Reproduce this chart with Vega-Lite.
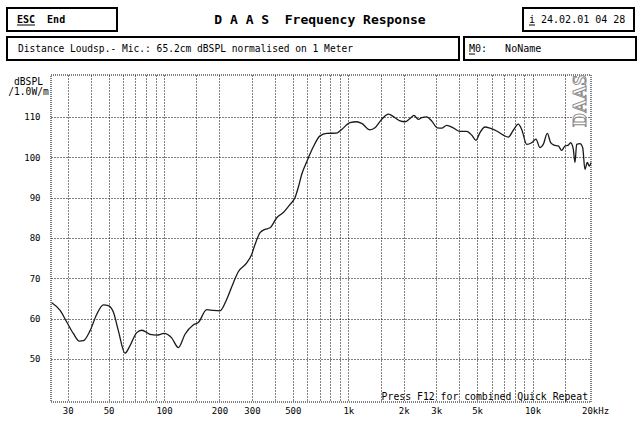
{
  "$schema": "https://vega.github.io/schema/vega-lite/v6.json",
  "background": "white",
  "padding": {"left": 6, "top": 7, "right": 4, "bottom": 4},
  "config": {
    "font": "DejaVu Sans Mono",
    "view": {"stroke": "black", "strokeWidth": 2},
    "text": {"color": "black"}
  },
  "spacing": 12,
  "vconcat": [
    {
      "spacing": 4,
      "vconcat": [
        {
          "spacing": 3,
          "hconcat": [
            {
              "width": 110, "height": 23,
              "data": {"values": [{"t": "ESC\u00a0\u00a0End"}]},
              "layer": [
                {"mark": {"type": "text", "align": "left", "fontWeight": "bold", "fontSize": 10},
                 "encoding": {"text": {"field": "t"}, "x": {"datum": 10, "type": "quantitative", "scale": {"domain": [0, 110], "nice": false}, "axis": null}}},
                {"mark": {"type": "rule", "color": "black", "strokeWidth": 1},
                 "encoding": {"x": {"datum": 10, "type": "quantitative", "axis": null}, "x2": {"datum": 28}, "y": {"datum": 6, "type": "quantitative", "scale": {"domain": [0, 23], "nice": false}, "axis": null}}}
              ]
            },
            {
              "width": 398, "height": 23,
              "data": {"values": [{"t": "D A A S\u00a0\u00a0Frequency Response"}]},
              "mark": {"type": "text", "fontWeight": "bold", "fontSize": 13},
              "encoding": {"text": {"field": "t"}}
            },
            {
              "width": 111, "height": 23,
              "data": {"values": [{"t": "i 24.02.01 04 28"}]},
              "layer": [
                {"mark": {"type": "text", "align": "left", "fontSize": 10},
                 "encoding": {"text": {"field": "t"}, "x": {"datum": 6, "type": "quantitative", "scale": {"domain": [0, 111], "nice": false}, "axis": null}}},
                {"mark": {"type": "rule", "color": "black", "strokeWidth": 1},
                 "encoding": {"x": {"datum": 6, "type": "quantitative", "axis": null}, "x2": {"datum": 12}, "y": {"datum": 6, "type": "quantitative", "scale": {"domain": [0, 23], "nice": false}, "axis": null}}}
              ]
            }
          ]
        },
        {
          "spacing": 3,
          "hconcat": [
            {
              "width": 452, "height": 23,
              "data": {"values": [{"t": "Distance Loudsp.- Mic.: 65.2cm dBSPL normalised on 1 Meter"}]},
              "mark": {"type": "text", "align": "left", "fontSize": 9.6},
              "encoding": {"text": {"field": "t"}, "x": {"datum": 11, "type": "quantitative", "scale": {"domain": [0, 452], "nice": false}, "axis": null}}
            },
            {
              "width": 172, "height": 23,
              "data": {"values": [{"t": "M0:\u00a0\u00a0\u00a0NoName"}]},
              "layer": [
                {"mark": {"type": "text", "align": "left", "fontSize": 10},
                 "encoding": {"text": {"field": "t"}, "x": {"datum": 5, "type": "quantitative", "scale": {"domain": [0, 172], "nice": false}, "axis": null}}},
                {"mark": {"type": "rule", "color": "black", "strokeWidth": 1},
                 "encoding": {"x": {"datum": 5, "type": "quantitative", "axis": null}, "x2": {"datum": 11}, "y": {"datum": 6, "type": "quantitative", "scale": {"domain": [0, 23], "nice": false}, "axis": null}}}
              ]
            }
          ]
        }
      ]
    },
    {
      "spacing": -2,
      "hconcat": [
        {
          "width": 1, "height": 1,
          "view": {"stroke": null},
          "data": {"values": []},
          "mark": "point"
        },
        {
          "width": 540, "height": 327,
          "view": {"stroke": "#808080", "strokeWidth": 2, "strokeDash": [1, 1]},
          "data": {"values": [
            {"f": 24.6, "db": 63.9}, {"f": 27.3, "db": 62.0}, {"f": 29.6, "db": 59.2}, {"f": 32.2, "db": 56.3},
            {"f": 34.7, "db": 54.4}, {"f": 36.5, "db": 54.5}, {"f": 39.7, "db": 57.0}, {"f": 43.1, "db": 61.0},
            {"f": 46.9, "db": 63.4}, {"f": 49.9, "db": 63.2}, {"f": 53.1, "db": 61.6}, {"f": 56.5, "db": 57.0},
            {"f": 61.4, "db": 51.4}, {"f": 65.4, "db": 53.3}, {"f": 71.1, "db": 56.5}, {"f": 75.7, "db": 57.1},
            {"f": 84.0, "db": 56.1}, {"f": 91.3, "db": 55.9}, {"f": 100, "db": 56.3}, {"f": 110, "db": 55.2},
            {"f": 119.6, "db": 52.8}, {"f": 130, "db": 56.1}, {"f": 144, "db": 58.4}, {"f": 153.5, "db": 59.0},
            {"f": 170.5, "db": 62.2}, {"f": 185, "db": 62.0}, {"f": 201, "db": 61.9}, {"f": 219, "db": 64.8},
            {"f": 238, "db": 68.9}, {"f": 253, "db": 71.6}, {"f": 281, "db": 73.8}, {"f": 299, "db": 75.9},
            {"f": 312, "db": 78.4}, {"f": 332, "db": 81.3}, {"f": 353, "db": 82.1}, {"f": 376, "db": 82.5},
            {"f": 409, "db": 85.0}, {"f": 444, "db": 86.3}, {"f": 483, "db": 88.3}, {"f": 514, "db": 90.0},
            {"f": 535, "db": 92.5}, {"f": 559, "db": 95.8}, {"f": 595, "db": 98.9}, {"f": 646, "db": 102.6},
            {"f": 702, "db": 105.3}, {"f": 763, "db": 105.9}, {"f": 865, "db": 106.0}, {"f": 921, "db": 106.9},
            {"f": 1021, "db": 108.6}, {"f": 1110, "db": 108.8}, {"f": 1182, "db": 108.4}, {"f": 1311, "db": 106.8},
            {"f": 1396, "db": 107.3}, {"f": 1518, "db": 109.4}, {"f": 1648, "db": 110.7}, {"f": 1792, "db": 109.8},
            {"f": 1908, "db": 109.0}, {"f": 2030, "db": 108.8}, {"f": 2161, "db": 109.6}, {"f": 2272, "db": 110.4},
            {"f": 2398, "db": 109.4}, {"f": 2502, "db": 109.8}, {"f": 2664, "db": 110.0}, {"f": 2835, "db": 109.0},
            {"f": 3040, "db": 107.3}, {"f": 3212, "db": 107.2}, {"f": 3419, "db": 107.9}, {"f": 3713, "db": 107.3},
            {"f": 4037, "db": 106.4}, {"f": 4389, "db": 106.4}, {"f": 4672, "db": 105.5}, {"f": 4930, "db": 104.2},
            {"f": 5183, "db": 106.1}, {"f": 5517, "db": 107.5}, {"f": 5873, "db": 107.2}, {"f": 6387, "db": 106.5},
            {"f": 6934, "db": 105.5}, {"f": 7383, "db": 105.0}, {"f": 7860, "db": 106.7}, {"f": 8366, "db": 108.2},
            {"f": 8728, "db": 106.9}, {"f": 9290, "db": 103.2}, {"f": 9888, "db": 103.6}, {"f": 10430, "db": 104.5},
            {"f": 10970, "db": 102.4}, {"f": 11430, "db": 103.2}, {"f": 12020, "db": 105.9}, {"f": 12540, "db": 103.6},
            {"f": 13070, "db": 103.0}, {"f": 13790, "db": 102.8}, {"f": 14390, "db": 101.7}, {"f": 14990, "db": 102.8},
            {"f": 15620, "db": 103.0}, {"f": 16090, "db": 103.6}, {"f": 16630, "db": 102.0}, {"f": 16980, "db": 98.7},
            {"f": 17350, "db": 103.2}, {"f": 18080, "db": 103.4}, {"f": 18700, "db": 102.4}, {"f": 19240, "db": 97.0},
            {"f": 19820, "db": 98.7}, {"f": 20310, "db": 97.8}, {"f": 20750, "db": 98.7}
          ]},
          "layer": [
            {
              "mark": {"type": "line", "color": "#1a1a1a", "strokeWidth": 1.3, "interpolate": "monotone"},
              "encoding": {
                "x": {
                  "field": "f", "type": "quantitative",
                  "scale": {"type": "log", "domain": [24.36, 20750], "nice": false},
                  "axis": {
                    "title": null,
                    "values": [30, 40, 50, 60, 70, 80, 90, 100, 150, 200, 300, 400, 500, 600, 700, 800, 900, 1000, 1500, 2000, 3000, 4000, 5000, 6000, 7000, 8000, 9000, 10000, 15000, 20000],
                    "grid": true, "gridColor": "black", "gridDash": [1, 2], "gridWidth": 1,
                    "gridOpacity": {"condition": {"test": "datum.value == 20000", "value": 0}, "value": 1},
                    "ticks": false, "domain": false,
                    "labelExpr": "datum.value == 30 || datum.value == 50 || datum.value == 100 || datum.value == 200 || datum.value == 300 || datum.value == 500 ? datum.label : datum.value == 1000 ? '1k' : datum.value == 2000 ? '2k' : datum.value == 3000 ? '3k' : datum.value == 5000 ? '5k' : datum.value == 10000 ? '10k' : datum.value == 20000 ? '20kHz' : ''",
                    "format": "d",
                    "labelOffset": {"condition": {"test": "datum.value == 20000", "value": 7}, "value": 0},
                    "labelFont": "DejaVu Sans Mono", "labelFontSize": 9, "labelColor": "black",
                    "labelPadding": 4, "labelFlush": false, "labelOverlap": false
                  }
                },
                "y": {
                  "field": "db", "type": "quantitative",
                  "scale": {"domain": [39.3, 120.4], "nice": false, "zero": false},
                  "axis": {
                    "title": ["dBSPL", "/1.0W/m"],
                    "titleAngle": 0, "titleAlign": "center", "titleBaseline": "top",
                    "titleX": -23, "titleY": 1,
                    "titleFont": "DejaVu Sans Mono", "titleFontSize": 9.6, "titleFontWeight": "normal",
                    "titleLineHeight": 10, "titleColor": "black",
                    "values": [50, 60, 70, 80, 90, 100, 110],
                    "grid": true, "gridColor": "black", "gridDash": [1, 2], "gridWidth": 1,
                    "ticks": false, "domain": false,
                    "labelFont": "DejaVu Sans Mono", "labelFontSize": 9, "labelColor": "black",
                    "labelPadding": 11
                  }
                }
              }
            },
            {
              "data": {"values": [{"t": "DAAS"}]},
              "mark": {"type": "text", "angle": 270, "fontSize": 19, "fontWeight": "bold", "font": "Liberation Sans Narrow", "fill": "white", "stroke": "#8c8c8c", "strokeWidth": 1},
              "encoding": {
                "text": {"field": "t"},
                "x": {"datum": 18080, "type": "quantitative"},
                "y": {"datum": 114, "type": "quantitative"}
              }
            },
            {
              "data": {"values": [{"t": "Press F12 for combined Quick Repeat"}]},
              "mark": {"type": "text", "align": "right", "baseline": "alphabetic", "fontSize": 9.8, "color": "black"},
              "encoding": {
                "text": {"field": "t"},
                "x": {"datum": 20000, "type": "quantitative"},
                "y": {"datum": 39.8, "type": "quantitative"}
              }
            }
          ]
        }
      ]
    }
  ]
}
